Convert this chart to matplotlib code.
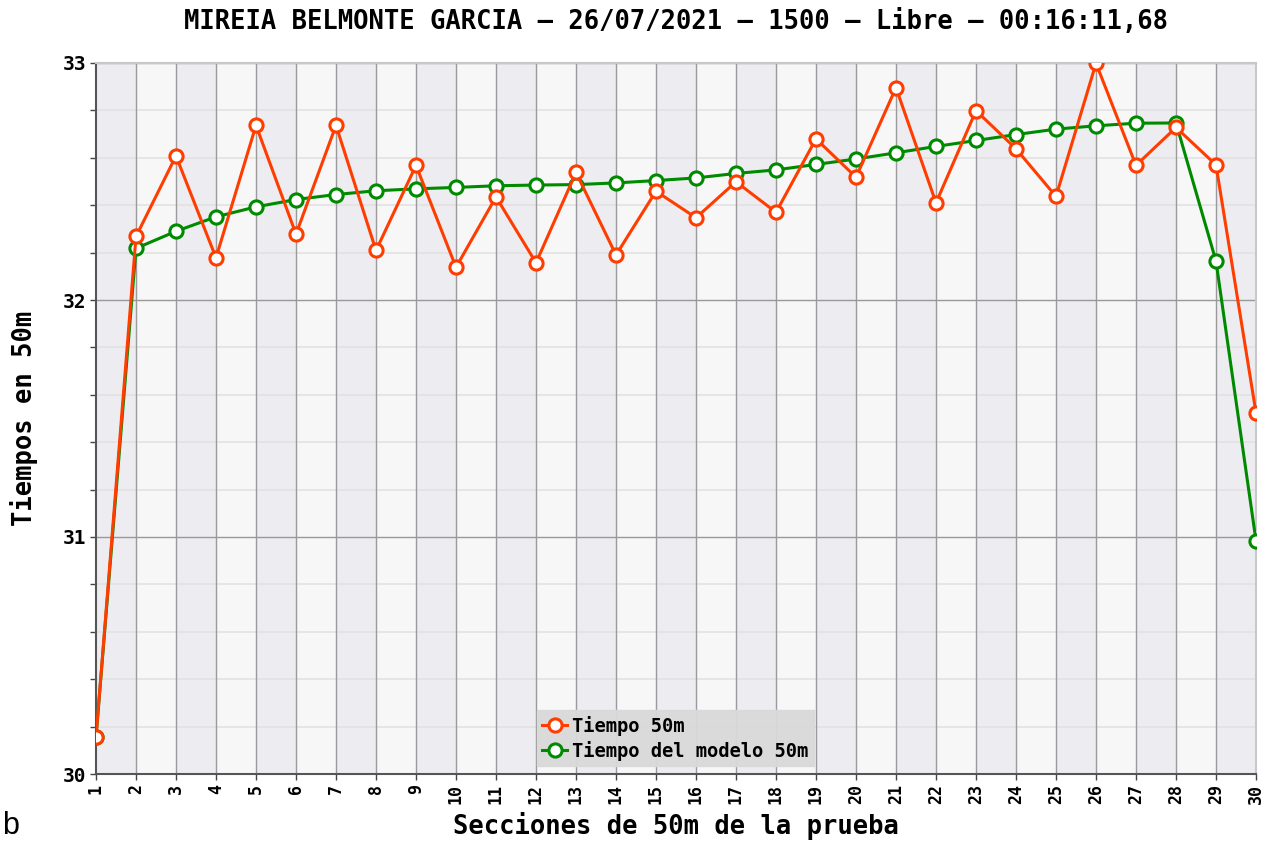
import matplotlib
matplotlib.use("Agg")
import matplotlib.pyplot as plt
import numpy as np

# datos de la prueba
secciones = list(range(1, 31))
tiempo_50m = [30.155, 32.268, 32.608, 32.178, 32.737, 32.278, 32.737, 32.209, 32.568, 32.138,
              32.435, 32.157, 32.538, 32.190, 32.459, 32.347, 32.499, 32.370, 32.680, 32.518,
              32.896, 32.410, 32.799, 32.638, 32.437, 32.999, 32.568, 32.728, 32.570, 31.524]
tiempo_modelo = [30.155, 32.218, 32.290, 32.351, 32.393, 32.424, 32.445, 32.461, 32.469, 32.475,
                 32.482, 32.485, 32.487, 32.494, 32.504, 32.515, 32.534, 32.549, 32.572, 32.595,
                 32.621, 32.648, 32.673, 32.698, 32.721, 32.735, 32.746, 32.747, 32.164, 30.984]

titulo = "MIREIA BELMONTE GARCIA \u2013 26/07/2021 \u2013 1500 \u2013 Libre \u2013 00:16:11,68"
mono = "DejaVu Sans Mono"

fig = plt.figure(figsize=(12.8, 8.44), dpi=100)
ax = fig.add_axes([96 / 1280, 1 - 774 / 844, 1160 / 1280, 711 / 844])

# bandas alternas de fondo
ax.set_facecolor("#f7f7f7")
for i in range(1, 30, 2):
    ax.axvspan(i, i + 1, color="#ededf1", zorder=0, lw=0)

# rejilla
for y in np.arange(30, 33.01, 0.2):
    if abs(y - round(y)) < 1e-6:
        ax.axhline(y, color="#999999", lw=1, zorder=1)
    else:
        ax.axhline(y, color="#e2e2e2", lw=1.2, zorder=1)
for x in secciones[1:-1]:
    ax.axvline(x, color="#9a9a9a", lw=1, zorder=1)

# series (la roja encima)
ax.plot(secciones, tiempo_modelo, color="#008a00", lw=2.2, marker="o", ms=9.5,
        mfc="white", mec="#008a00", mew=2.2, zorder=3, label="Tiempo del modelo 50m")
ax.plot(secciones, tiempo_50m, color="#ff3d00", lw=2.2, marker="o", ms=9.5,
        mfc="white", mec="#ff3d00", mew=2.2, zorder=4, label="Tiempo 50m")

ax.set_xlim(1, 30)
ax.set_ylim(30, 33)
ax.set_xticks(secciones)
ax.set_xticklabels([str(s) for s in secciones], rotation=90, fontsize=12,
                   fontweight="bold", family=mono)
ax.set_yticks([30, 31, 32, 33])
ax.set_yticklabels(["30", "31", "32", "33"], fontsize=14, fontweight="bold", family=mono)
ax.set_yticks(np.arange(30, 33.01, 0.2), minor=True)
ax.tick_params(axis="y", which="minor", length=4, width=1, color="#444444")
ax.tick_params(axis="y", which="major", length=4, width=1, color="#444444", pad=3)
ax.tick_params(axis="x", length=4, width=1, color="#444444", pad=3)

for lado in ["left", "bottom"]:
    ax.spines[lado].set_color("#555555")
    ax.spines[lado].set_linewidth(1.5)
for lado in ["top", "right"]:
    ax.spines[lado].set_color("#c8c8c8")
    ax.spines[lado].set_linewidth(1.5)

ax.set_xlabel("Secciones de 50m de la prueba", fontsize=18.4, fontweight="bold",
              family=mono, labelpad=6)
ax.set_ylabel("Tiempos en 50m", fontsize=18.4, fontweight="bold", family=mono, labelpad=18)
fig.text(676 / 1280, 1 - 22 / 844, titulo, ha="center", va="center", fontsize=18.4,
         fontweight="bold", family=mono)

handles, labels = ax.get_legend_handles_labels()
leg = ax.legend(handles[::-1], labels[::-1], loc="lower left",
                bbox_to_anchor=(0.380, 0.011), frameon=True, fancybox=False,
                prop={"family": mono, "weight": "bold", "size": 13.5},
                handlelength=1.3, handletextpad=0.3, borderpad=0.3,
                labelspacing=0.25, borderaxespad=0)
leg.get_frame().set_facecolor("#d9d9d9")
leg.get_frame().set_edgecolor("#d9d9d9")
leg.get_frame().set_alpha(0.95)

fig.text(2 / 1280, 1 - 826 / 844, "b", fontsize=22, family="Liberation Sans",
         ha="left", va="center")

fig.savefig("out.png", dpi=100)
